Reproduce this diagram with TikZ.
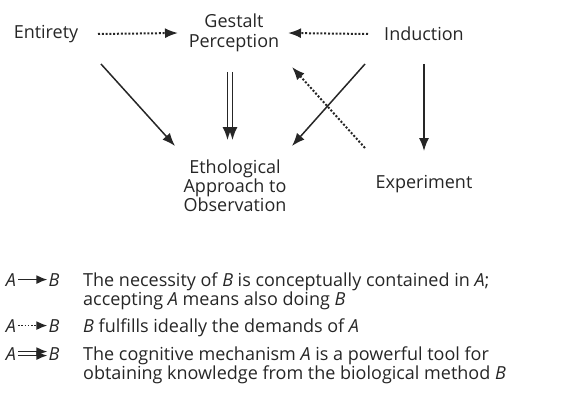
\documentclass[tikz,border=0pt]{standalone}
\usepackage{fontspec}
\setmainfont{Open Sans}
\usetikzlibrary{arrows.meta}

\begin{document}
\begin{tikzpicture}[x=1pt,y=-1pt,font={\fontsize{18}{19}\selectfont\lineskiplimit=-10pt\relax},
  lbl/.style={inner sep=0pt,align=center,text=black!85},
  imp/.style={line width=1.5pt,black!85,-{Latex[length=13pt,width=10pt]}},
  ful/.style={imp,line width=2pt,dash pattern=on 2pt off 1.8pt},
  keyimp/.style={imp,-{Latex[length=11pt,width=9pt]},shorten <=2pt,shorten >=1pt},
  keytxt/.style={lbl,anchor=base west,align=left}]
\useasboundingbox (0,0) rectangle (584,396);
\node[lbl] (ent) at (46,34) {Entirety};
\node[lbl] (ges) at (234,33) {Gestalt\\[1pt]Perception};
\node[lbl] (ind) at (424,34) {Induction};
\node[lbl] (eth) at (235,186) {Ethological\\Approach to\\Observation};
\node[lbl] (exp) at (424,184) {Experiment};
\draw[ful] ([xshift=52]ent.center) -- ([xshift=-56]ges.center);
\draw[ful] ([xshift=-56]ind.center) -- ([xshift=54]ges.center);
\draw[imp] ([shift={(55,30)}]ent.center) -- ([shift={(-60,-40)}]eth.center);
\foreach \d in {-2.5,2.5} {
   \draw[imp] ([shift={(-4+\d,39)}]ges.center) -- ([shift={(-5+\d,-46)}]eth.center);
}
\draw[imp] ([shift={(-59,30)}]ind.center) -- ([shift={(57,-40)}]eth.center);
\draw[ful] ([shift={(-59,-36)}]exp.center) -- ([shift={(58,34)}]ges.center);
\draw[imp] ([shift={(0,30)}]ind.center) -- ([shift={(0,-33)}]exp.center);
\node[lbl,anchor=base] (a1) at (11,286) {\textit{A}};
\node[lbl,anchor=base] (b1) at (54,286) {\textit{B}};
\draw[keyimp] (a1) -- (b1);
\node[keytxt] (t1) at (83,305) {The necessity of \textit{B} is conceptually contained in \textit{A};\\accepting \textit{A} means also doing \textit{B}};
\node[lbl,anchor=base] (a2) at (11,332) {\textit{A}};
\node[lbl,anchor=base] (b2) at (54,332) {\textit{B}};
\draw[keyimp,line width=1.6pt,dash pattern=on 1.6pt off 1.6pt] (a2) -- (b2);
\node[keytxt] (t2) at (83,332) {\textit{B} fulfills ideally the demands of \textit{A}};
\node[lbl,anchor=base] (a3) at (11,360) {\textit{A}};
\node[lbl,anchor=base] (b3) at (54,360) {\textit{B}};
\foreach \d in {-2,2} {
   \draw[keyimp] ([shift={(0,\d)}]a3.east) -- ([shift={(0,\d)}]b3.west);
}
\node[keytxt] (t3) at (83,379) {The cognitive mechanism \textit{A} is a powerful tool for\\obtaining knowledge from the biological method \textit{B}};
\end{tikzpicture}
\end{document}
